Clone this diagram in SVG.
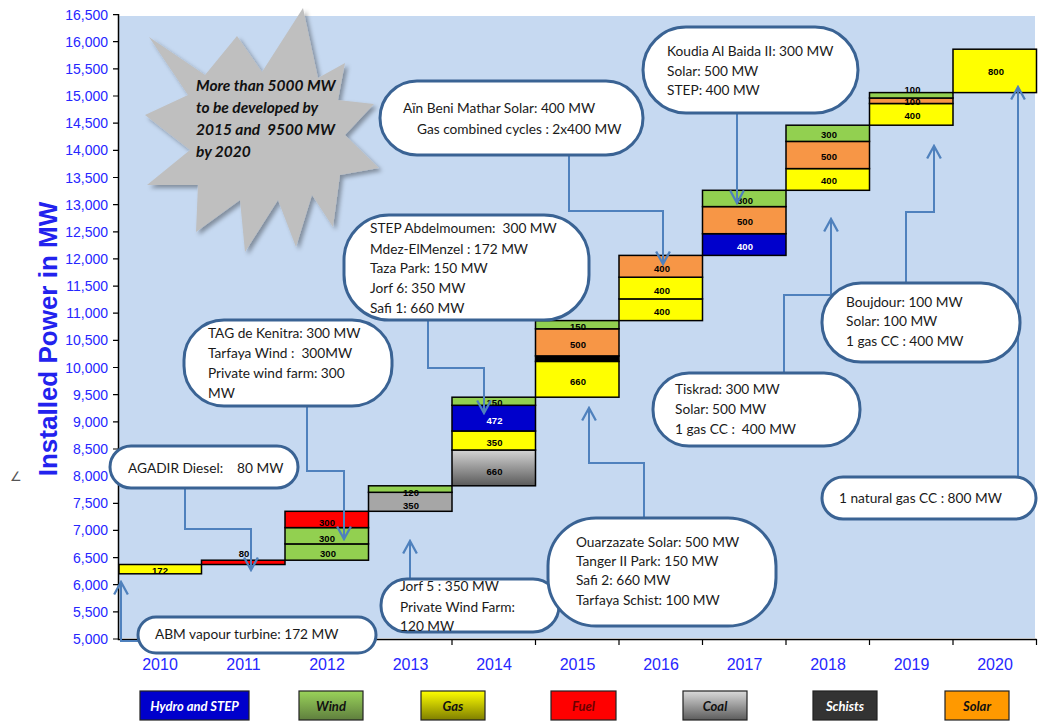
<svg xmlns="http://www.w3.org/2000/svg" width="1038" height="722" viewBox="0 0 1038 722">
<defs>
<style>
.ax{font-family:"Liberation Sans",Arial,sans-serif;fill:#2626FF}
.yl{font-size:14px;text-anchor:end}
.xl{font-size:16px;text-anchor:middle}
.bar{stroke:#000;stroke-width:1.5}
.bl{font-family:"Liberation Sans",Arial,sans-serif;font-size:9.5px;font-weight:bold;text-anchor:middle;fill:#000}
.bw{fill:#fff}
.co{fill:#fff;stroke:#3A6394;stroke-width:3}
.ct{font-family:Lato,"Liberation Sans",sans-serif;font-size:13.7px;fill:#1a1a1a}
.cn{fill:none;stroke:#4F81BD;stroke-width:2;marker-end:url(#ah)}
.lg{stroke:#222;stroke-width:1.2}
.lt{font-family:Lato,"Liberation Sans",sans-serif;font-size:13px;font-weight:bold;font-style:italic;text-anchor:middle}
.st{font-family:Lato,"Liberation Sans",sans-serif;font-size:15.5px;font-weight:bold;font-style:italic;fill:#111}
.Y{fill:#FFFF00}.G{fill:#92D050}.R{fill:#FF0000}.O{fill:#F79646}.B{fill:#0000CC}.C{fill:#A6A6A6}.K{fill:#000}
</style>
<marker id="ah" markerUnits="userSpaceOnUse" markerWidth="16" markerHeight="16" refX="12" refY="7" orient="auto" viewBox="0 0 14 14">
<path d="M1,1 L12,7 L1,13" fill="none" stroke="#4F81BD" stroke-width="2"/>
</marker>
<linearGradient id="gCoal" x1="0" y1="0" x2="0" y2="1"><stop offset="0" stop-color="#D4D4D4"/><stop offset="1" stop-color="#5A5A5A"/></linearGradient>
<linearGradient id="gWind" x1="0" y1="0" x2="0" y2="1"><stop offset="0" stop-color="#9AD35A"/><stop offset="1" stop-color="#5F7F3E"/></linearGradient>
<linearGradient id="gGas" x1="0" y1="0" x2="0" y2="1"><stop offset="0" stop-color="#FFFF00"/><stop offset="1" stop-color="#7F7F00"/></linearGradient>
<linearGradient id="gCoalL" x1="0" y1="0" x2="0" y2="1"><stop offset="0" stop-color="#DADADA"/><stop offset="1" stop-color="#5C5C5C"/></linearGradient>
<filter id="sh" x="-10%" y="-10%" width="130%" height="130%"><feDropShadow dx="3" dy="3" stdDeviation="2" flood-color="#000" flood-opacity="0.35"/></filter>
</defs>

<rect x="119" y="16" width="916" height="622" fill="#C6D9F1"/>

<g id="axes">
<path d="M118.5,14 V639.5 H1036.5" fill="none" stroke="#000" stroke-width="1.5"/>
<path d="M113,14.6H118M113,41.7H118M113,68.9H118M113,96H118M113,123.2H118M113,150.3H118M113,177.5H118M113,204.6H118M113,231.8H118M113,258.9H118M113,286.1H118M113,313.2H118M113,340.4H118M113,367.5H118M113,394.7H118M113,421.8H118M113,449H118M113,476.1H118M113,503.3H118M113,530.4H118M113,557.6H118M113,584.7H118M113,611.9H118M113,639H118" stroke="#000" stroke-width="1.2"/>
<path d="M201.5,639V645M285,639V645M368.5,639V645M452,639V645M535.5,639V645M619,639V645M702.5,639V645M786,639V645M869.5,639V645M953,639V645M1036.5,639V645" stroke="#000" stroke-width="1.2"/>
<g class="ax yl">
<text x="108" y="19.6">16,500</text><text x="108" y="46.7">16,000</text><text x="108" y="73.9">15,500</text><text x="108" y="101">15,000</text>
<text x="108" y="128.2">14,500</text><text x="108" y="155.3">14,000</text><text x="108" y="182.5">13,500</text><text x="108" y="209.6">13,000</text>
<text x="108" y="236.8">12,500</text><text x="108" y="263.9">12,000</text><text x="108" y="291.1">11,500</text><text x="108" y="318.2">11,000</text>
<text x="108" y="345.4">10,500</text><text x="108" y="372.5">10,000</text><text x="108" y="399.7">9,500</text><text x="108" y="426.8">9,000</text>
<text x="108" y="454">8,500</text><text x="108" y="481.1">8,000</text><text x="108" y="508.3">7,500</text><text x="108" y="535.4">7,000</text>
<text x="108" y="562.6">6,500</text><text x="108" y="589.7">6,000</text><text x="108" y="616.9">5,500</text><text x="108" y="644">5,000</text>
</g>
<g class="ax xl">
<text x="160" y="670">2010</text><text x="243.5" y="670">2011</text><text x="327" y="670">2012</text><text x="410.5" y="670">2013</text>
<text x="494" y="670">2014</text><text x="577.5" y="670">2015</text><text x="661" y="670">2016</text><text x="744.5" y="670">2017</text>
<text x="828" y="670">2018</text><text x="911.5" y="670">2019</text><text x="995" y="670">2020</text>
</g>
<text transform="translate(57,339) rotate(-90)" text-anchor="middle" font-family="Liberation Sans, Arial, sans-serif" font-size="26" font-weight="bold" fill="#2222EE">Installed Power in MW</text>
<text x="10" y="481" font-family="DejaVu Sans, sans-serif" font-size="13" fill="#555">∠</text>
</g>

<g id="bars">
<g id="bar-2010"><rect class="bar Y" x="119" y="564.5" width="82.5" height="9.3"/><text class="bl" x="160" y="574">172</text></g>
<g id="bar-2011"><rect class="bar R" x="201.5" y="560.2" width="83.5" height="4.3"/><text class="bl" x="244" y="557">80</text></g>
<g id="bar-2012">
<rect class="bar G" x="285" y="543.9" width="83.5" height="16.3"/>
<rect class="bar G" x="285" y="527.6" width="83.5" height="16.3"/>
<rect class="bar R" x="285" y="511.3" width="83.5" height="16.3"/>
<text class="bl" x="328" y="556.5">300</text><text class="bl" x="327" y="542">300</text><text class="bl" x="327" y="525.5">300</text>
</g>
<g id="bar-2013">
<rect class="bar C" x="368.5" y="492.3" width="83.5" height="19"/>
<rect class="bar G" x="368.5" y="485.8" width="83.5" height="6.5"/>
<text class="bl" x="411" y="508.5">350</text><text class="bl" x="411" y="495.5">120</text>
</g>
<g id="bar-2014">
<rect class="bar" fill="url(#gCoal)" x="452" y="450" width="83.5" height="35.8"/>
<rect class="bar Y" x="452" y="431" width="83.5" height="19"/>
<rect class="bar B" x="452" y="405.3" width="83.5" height="25.7"/>
<rect class="bar G" x="452" y="397.2" width="83.5" height="8.1"/>
<text class="bl" x="494.5" y="474.5">660</text><text class="bl" x="494.5" y="446">350</text><text class="bl bw" x="494.5" y="424">472</text><text class="bl" x="494.5" y="406">150</text>
</g>
<g id="bar-2015">
<rect class="bar Y" x="535.5" y="361.4" width="83.5" height="35.8"/>
<rect class="bar K" x="535.5" y="355.9" width="83.5" height="5.5"/>
<rect class="bar O" x="535.5" y="328.8" width="83.5" height="27.1"/>
<rect class="bar G" x="535.5" y="320.6" width="83.5" height="8.2"/>
<text class="bl" x="578" y="385">660</text><text class="bl" x="578" y="348">500</text><text class="bl" x="578" y="329.5">150</text>
</g>
<g id="bar-2016">
<rect class="bar Y" x="619" y="298.9" width="83.5" height="21.7"/>
<rect class="bar Y" x="619" y="277.2" width="83.5" height="21.7"/>
<rect class="bar O" x="619" y="255.4" width="83.5" height="21.8"/>
<text class="bl" x="662" y="314.5">400</text><text class="bl" x="662" y="293.5">400</text><text class="bl" x="662" y="272">400</text>
</g>
<g id="bar-2017">
<rect class="bar B" x="702.5" y="233.7" width="83.5" height="21.7"/>
<rect class="bar O" x="702.5" y="206.6" width="83.5" height="27.1"/>
<rect class="bar G" x="702.5" y="190.3" width="83.5" height="16.3"/>
<text class="bl bw" x="745" y="249.5">400</text><text class="bl" x="745" y="224.5">500</text><text class="bl" x="745" y="203.5">300</text>
</g>
<g id="bar-2018">
<rect class="bar Y" x="786" y="168.6" width="83.5" height="21.7"/>
<rect class="bar O" x="786" y="141.4" width="83.5" height="27.2"/>
<rect class="bar G" x="786" y="125.2" width="83.5" height="16.2"/>
<text class="bl" x="829" y="183.5">400</text><text class="bl" x="829" y="159.5">500</text><text class="bl" x="829" y="138">300</text>
</g>
<g id="bar-2019">
<rect class="bar Y" x="869.5" y="103.5" width="83.5" height="21.7"/>
<rect class="bar O" x="869.5" y="98" width="83.5" height="5.5"/>
<rect class="bar G" x="869.5" y="92.6" width="83.5" height="5.4"/>
<text class="bl" x="912.5" y="118.5">400</text><text class="bl" x="912.5" y="104.5">100</text><text class="bl" x="912.5" y="93">100</text>
</g>
<g id="bar-2020">
<rect class="bar Y" x="953" y="49.2" width="83.5" height="43.4"/>
<text class="bl" x="996" y="75">800</text>
</g>
</g>

<g id="star">
<polygon filter="url(#sh)" fill="#BFBFBF" points="149,37 205,75 237,36 262,72 303,8 318,78 345,63 338,100 374,104 345,135 379,168 340,175 333,227 312,195 296,247 278,200 245,252 240,200 196,232 198,185 147,185 190,150 145,115 188,95"/>
<text class="st" x="196" y="90.7">More than 5000 MW</text>
<text class="st" x="196" y="113.3">to be developed by</text>
<text class="st" x="196" y="135" xml:space="preserve">2015 and  9500 MW</text>
<text class="st" x="196" y="156.7">by 2020</text>
</g>

<g id="connectors">
<path class="cn" d="M185,488 V529 H251 V570"/>
<path class="cn" d="M140,641 H121 V582"/>
<path class="cn" d="M307,406 V471 H344 V539"/>
<path class="cn" d="M410,579 V541"/>
<path class="cn" d="M428,320 V368 H484 V413"/>
<path class="cn" d="M569,155 V211 H663 V264"/>
<path class="cn" d="M737,113 V203"/>
<path class="cn" d="M644,518 V463 H589 V408"/>
<path class="cn" d="M784,373 V295 H831 V219"/>
<path class="cn" d="M906,284 V212 H934 V146"/>
<path class="cn" d="M1018,477 V87"/>
</g>

<g id="callout-agadir"><rect class="co" x="110" y="446" width="188" height="42" rx="21"/>
<text class="ct" x="128" y="473" xml:space="preserve">AGADIR Diesel:    80 MW</text></g>
<g id="callout-abm"><rect class="co" x="138" y="617" width="238" height="36" rx="18"/>
<text class="ct" x="155" y="639">ABM vapour turbine: 172 MW</text></g>
<g id="callout-tag"><rect class="co" x="184" y="320" width="208" height="86" rx="40"/>
<text class="ct" x="208" y="338">TAG de Kenitra: 300 MW</text>
<text class="ct" x="208" y="358" xml:space="preserve">Tarfaya Wind :  300MW</text>
<text class="ct" x="208" y="378">Private wind farm: 300</text>
<text class="ct" x="208" y="398">MW</text></g>
<g id="callout-jorf5"><rect class="co" x="381" y="579" width="178" height="53" rx="26"/>
<text class="ct" x="400" y="591">Jorf 5 : 350 MW</text>
<text class="ct" x="400" y="612">Private Wind Farm:</text>
<text class="ct" x="400" y="631">120 MW</text></g>
<g id="callout-step"><rect class="co" x="344" y="215" width="245" height="105" rx="45"/>
<text class="ct" x="370" y="233" xml:space="preserve">STEP Abdelmoumen:  300 MW</text>
<text class="ct" x="370" y="254">Mdez-ElMenzel : 172 MW</text>
<text class="ct" x="370" y="273">Taza Park: 150 MW</text>
<text class="ct" x="370" y="293">Jorf 6: 350 MW</text>
<text class="ct" x="370" y="313">Safi 1: 660 MW</text></g>
<g id="callout-ain"><rect class="co" x="380" y="81" width="263" height="74" rx="37"/>
<text class="ct" x="403" y="113">Aïn Beni Mathar Solar: 400 MW</text>
<text class="ct" x="417" y="134">Gas combined cycles : 2x400 MW</text></g>
<g id="callout-koudia"><rect class="co" x="643" y="27" width="215" height="86" rx="43"/>
<text class="ct" x="667" y="56">Koudia Al Baida II: 300 MW</text>
<text class="ct" x="667" y="76">Solar: 500 MW</text>
<text class="ct" x="667" y="95">STEP: 400 MW</text></g>
<g id="callout-ouarzazate"><rect class="co" x="548" y="518" width="228" height="108" rx="48"/>
<text class="ct" x="576" y="547">Ouarzazate Solar: 500 MW</text>
<text class="ct" x="576" y="566">Tanger II Park: 150 MW</text>
<text class="ct" x="576" y="585">Safi 2: 660 MW</text>
<text class="ct" x="576" y="605">Tarfaya Schist: 100 MW</text></g>
<g id="callout-tiskrad"><rect class="co" x="653" y="373" width="207" height="73" rx="36"/>
<text class="ct" x="675" y="394">Tiskrad: 300 MW</text>
<text class="ct" x="675" y="414">Solar: 500 MW</text>
<text class="ct" x="675" y="434" xml:space="preserve">1 gas CC :  400 MW</text></g>
<g id="callout-boujdour"><rect class="co" x="822" y="283" width="198" height="79" rx="39"/>
<text class="ct" x="846" y="307">Boujdour: 100 MW</text>
<text class="ct" x="846" y="326">Solar: 100 MW</text>
<text class="ct" x="846" y="346">1 gas CC : 400 MW</text></g>
<g id="callout-natgas"><rect class="co" x="822" y="477" width="214" height="42" rx="21"/>
<text class="ct" x="839" y="503">1 natural gas CC : 800 MW</text></g>

<g id="legend">
<g id="lg-hydro"><rect class="lg" x="140" y="691" width="109" height="29" fill="#0000CC"/><text class="lt" x="194.5" y="711" fill="#fff">Hydro and STEP</text></g>
<g id="lg-wind"><rect class="lg" x="299" y="691" width="64" height="29" fill="url(#gWind)"/><text class="lt" x="331" y="711" fill="#111">Wind</text></g>
<g id="lg-gas"><rect class="lg" x="421" y="691" width="64" height="29" fill="url(#gGas)"/><text class="lt" x="453" y="711" fill="#111">Gas</text></g>
<g id="lg-fuel"><rect class="lg" x="551" y="691" width="65" height="29" fill="#FF0000"/><text class="lt" x="583.5" y="711" fill="#6B0000">Fuel</text></g>
<g id="lg-coal"><rect class="lg" x="683" y="691" width="64" height="29" fill="url(#gCoalL)"/><text class="lt" x="715" y="711" fill="#111">Coal</text></g>
<g id="lg-schists"><rect class="lg" x="813" y="691" width="64" height="29" fill="#333333"/><text class="lt" x="845" y="711" fill="#fff">Schists</text></g>
<g id="lg-solar"><rect class="lg" x="945" y="691" width="64" height="29" fill="#FF9900"/><text class="lt" x="977" y="711" fill="#111">Solar</text></g>
</g>
</svg>
